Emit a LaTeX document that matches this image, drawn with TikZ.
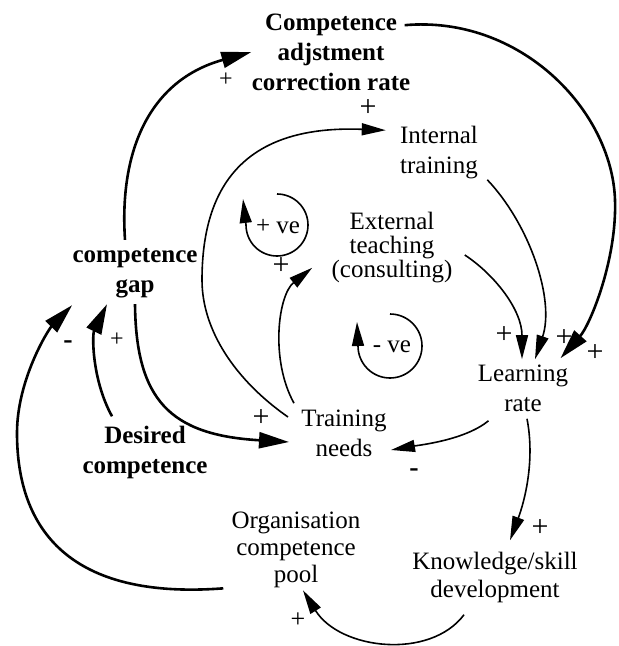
\documentclass[tikz,border=0pt]{standalone}
\usepackage{fontspec}
\setmainfont{Liberation Serif}
\usetikzlibrary{arrows.meta}

\begin{document}
\begin{tikzpicture}[
  x=0.5pt, y=0.5pt,
  lbl/.style={align=center, inner sep=0pt, font=\fontsize{12.5}{15}\selectfont},
  blbl/.style={lbl, font=\fontsize{12.5}{15}\selectfont\bfseries},
  sgn/.style={inner sep=0pt, font=\fontsize{15}{15}\selectfont},
  msgn/.style={sgn, font=\fontsize{14}{14}\selectfont\bfseries},
  thk/.style={-{Triangle[length=15pt, width=8pt]}, line width=1.3pt},
  thn/.style={-{Triangle[length=12pt, width=6pt]}, line width=0.8pt}
]
\useasboundingbox (0,0) rectangle (618,-646);
% variables
\node[blbl] (comp) at (331,-52) {Competence\\adjstment\\correction rate};
\node[lbl] (intl) at (439,-153) {Internal\\training};
\node[lbl, font=\fontsize{12.5}{12}\selectfont] (extl) at (392,-248) {External\\teaching\\(consulting)};
\node[blbl] (gap) at (135,-273) {competence\\gap};
\node[blbl] (des) at (145,-452) {Desired\\competence};
\node[lbl] (tn) at (344,-433) {Training\\needs};
\node[lbl] (lr) at (523,-388) {Learning\\rate};
\node[lbl, font=\fontsize{12.5}{14}\selectfont] (kd) at (495,-577) {Knowledge/skill\\development};
\node[lbl, font=\fontsize{12.5}{13.5}\selectfont] (pool) at (296,-550) {Organisation\\competence\\pool};

% loops
\node[lbl] (pve) at (278,-227) {+ ve};
\node[lbl] (nve) at (392,-347) {- ve};
\draw[thn] ([shift={(-1,33)}]pve.center) arc[start angle=90, end angle=-180, radius=31] -- ++(-3,26);
\draw[thn] ([shift={(-2,33)}]nve.center) arc[start angle=90, end angle=-180, radius=32] -- ++(-1,24);

% links
\draw[thk] ([shift={(-10,8)}]gap.north) .. controls (119,-150) and (150,-80) .. (comp.west);
\draw[thk] ([shift={(-6,-12)}]comp.north east) .. controls (520,-15) and (612,-110) .. (615,-200)
  .. controls (617,-260) and (590,-325) .. ([shift={(-8,6)}]lr.north east);
\draw[thn] ([shift={(-13,16)}]tn.west) .. controls (235,-380) and (202,-330) .. (202,-280)
  .. controls (202,-180) and (250,-125) .. ([shift={(-14,-4)}]intl.north west);
\draw[thn] ([shift={(-7,6)}]tn.north west) .. controls (270,-360) and (278,-295) .. ([shift={(-19,16)}]extl.south west);
\draw[thk] ([shift={(0,-6)}]gap.south) .. controls (136,-400) and (170,-435) .. ([shift={(-12,-9)}]tn.west);
\draw[thk] ([shift={(-33,9)}]des.north) .. controls (92,-380) and (92,-335) .. ([shift={(-28,-6)}]gap.south);
\draw[thk] ([shift={(-8,0)}]pool.south west) .. controls (70,-600) and (17,-530) .. (17,-433)
  .. controls (17,-380) and (48,-330) .. ([shift={(0,-7)}]gap.south west);
\draw[thn] ([shift={(9,0)}]intl.south east) .. controls (530,-225) and (555,-300) .. ([shift={(12,5)}]lr.north);
\draw[thn] ([shift={(12,-7)}]extl.east) .. controls (495,-275) and (522,-310) .. ([shift={(-1,5)}]lr.north);
\draw[thn] ([shift={(11,-9)}]lr.south west) .. controls (465,-440) and (420,-445) .. ([shift={(4,-17)}]tn.east);
\draw[thn] ([shift={(4,-7)}]lr.south) .. controls (535,-460) and (525,-500) .. ([shift={(15,11)}]kd.north);
\draw[thn] ([shift={(-31,-12)}]kd.south) .. controls (430,-660) and (340,-650) .. ([shift={(7,-2)}]pool.south);

% polarities
\node[sgn, font=\fontsize{12}{12}\selectfont] (pgc) at (226,-80) {+};
\node[sgn] (pti) at (368,-108) {+};
\node[sgn] (pte) at (281,-266) {+};
\node[sgn] (pel) at (504,-335) {+};
\node[sgn] (pil) at (564,-338) {+};
\node[sgn] (pcl) at (595,-353) {+};
\node[msgn] (mlt) at (414,-473) {-};
\node[sgn] (plk) at (540,-528) {+};
\node[sgn, font=\fontsize{13}{13}\selectfont] (pkp) at (298,-620) {+};
\node[msgn] (mpg) at (68,-345) {-};
\node[sgn, font=\fontsize{12}{12}\selectfont] (pdg) at (117,-340) {+};
\node[sgn] (pgt) at (261,-418) {+};
\end{tikzpicture}
\end{document}
